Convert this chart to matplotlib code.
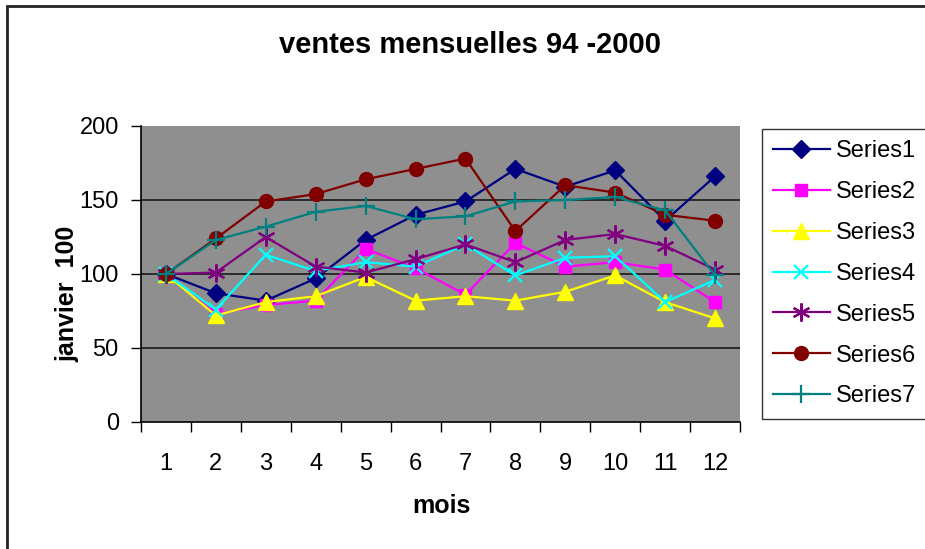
import numpy as np
import matplotlib
matplotlib.use('Agg')
import matplotlib.pyplot as plt
from matplotlib.patches import Rectangle

plt.rcParams['font.family'] = ['Liberation Sans', 'DejaVu Sans']

# données (indice janvier = 100)
mois = list(range(1, 13))
series1 = [100, 87, 82, 97, 123, 140, 149, 171, 159, 170, 136, 166]
series2 = [100, 73, 79, 82, 117, 104, 86, 121, 105, 108, 103, 81]
series3 = [100, 72, 81, 85, 98, 82, 85, 82, 88, 99, 81, 70]
series4 = [100, 76, 113, 102, 108, 105, 120, 99, 111, 112, 81, 96]
series5 = [100, 101, 125, 105, 101, 110, 120, 108, 123, 127, 119, 103]
series6 = [100, 124, 149, 154, 164, 171, 178, 129, 160, 155, 140, 136]
series7 = [100, 123, 132, 142, 146, 137, 139, 149, 150, 152, 143, 99]

noms = ['Series1', 'Series2', 'Series3', 'Series4', 'Series5', 'Series6', 'Series7']
valeurs = [series1, series2, series3, series4, series5, series6, series7]
couleurs = ['#000080', '#ff00ff', '#ffff00', '#00ffff', '#800080', '#800000', '#008080']
marqueurs = ['D', 's', '^', 'x', (6, 2, 0), 'o', '+']
tailles = [9, 9, 11, 10, 13, 10, 13]

W, H = 925, 549
fig = plt.figure(figsize=(W / 100, H / 100), dpi=100)
ax = fig.add_axes([141 / W, 1 - 422 / H, 599 / W, 296 / H])
ax.set_facecolor('#8f8f8f')

for nom, v, c, m, s in zip(noms, valeurs, couleurs, marqueurs, tailles):
    ax.plot(mois, v, color=c, lw=1.6, marker=m, markersize=s,
            markeredgewidth=1.6 if m in ('x', '+') or isinstance(m, tuple) else 1,
            markerfacecolor=c, markeredgecolor=c, label=nom)

ax.set_xlim(0.5, 12.5)
ax.set_ylim(0, 200)
ax.set_yticks([0, 50, 100, 150, 200])
ax.set_xticks(np.arange(0.5, 13, 1))
ax.set_xticklabels([])
ax.set_xticks(mois, minor=True)
ax.set_xticklabels([str(m) for m in mois], minor=True)
ax.tick_params(axis='x', which='major', direction='out', length=7, width=1)
ax.tick_params(axis='x', which='minor', length=0, labelsize=17, pad=22)
ax.tick_params(axis='y', direction='out', length=7, width=1, labelsize=17, pad=9)

ax.yaxis.grid(True, color='#1a1a1a', lw=1.2)
ax.get_ygridlines()[-1].set_visible(False)
ax.get_ygridlines()[0].set_visible(False)
ax.set_axisbelow(True)
for side in ('top', 'right'):
    ax.spines[side].set_visible(False)
ax.spines['left'].set_linewidth(1.2)
ax.spines['bottom'].set_linewidth(1.2)

fig.text(470 / W, 1 - 45 / H, 'ventes mensuelles 94 -2000', ha='center', va='center',
         fontsize=21, fontweight='bold')
fig.text(67 / W, 1 - 294 / H, 'janvier  100', ha='center', va='center', rotation=90,
         fontsize=18, fontweight='bold')
fig.text(441 / W, 1 - 506 / H, 'mois', ha='center', va='center',
         fontsize=18, fontweight='bold')

leg = fig.legend(loc='upper left', bbox_to_anchor=(762 / W, 1 - 129 / H),
                 frameon=True, fancybox=False, edgecolor='black', fontsize=17,
                 handlelength=2.4, handletextpad=0.25, labelspacing=0.8,
                 borderpad=0.47, borderaxespad=0)
leg.get_frame().set_linewidth(1)

# cadre du graphique
fig.add_artist(Rectangle((7 / W, -0.1), 1, 1.1 - 6 / H, transform=fig.transFigure,
                         fill=False, edgecolor='#222222', lw=2))

fig.savefig('out.png', dpi=100)
